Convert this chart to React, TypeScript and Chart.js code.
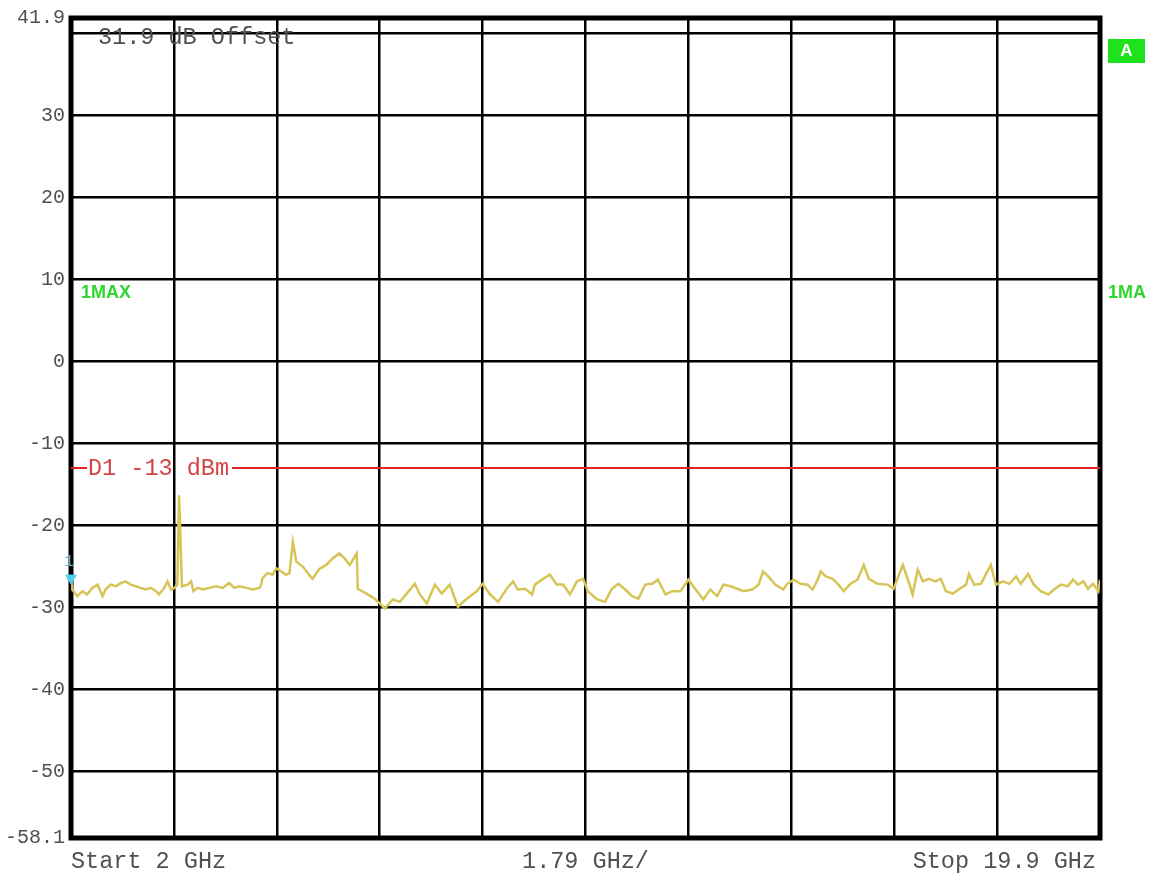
import { useEffect, useRef } from "react";
import { Chart, registerables } from "chart.js";

Chart.register(...registerables);

// Max-hold spurious sweep, 2 GHz .. 19.9 GHz, level in dBm
const FREQ_GHZ = [
  2.0, 2.02, 2.11, 2.2, 2.28, 2.37, 2.46, 2.55, 2.6, 2.69, 2.78, 2.87, 2.95, 3.04, 3.13, 3.21,
  3.3, 3.39, 3.48, 3.53, 3.62, 3.68, 3.74, 3.8, 3.85, 3.88, 3.93, 4.03, 4.09, 4.13, 4.2, 4.29,
  4.41, 4.52, 4.64, 4.75, 4.84, 4.93, 5.05, 5.16, 5.28, 5.31, 5.33, 5.42, 5.51, 5.57, 5.66, 5.74,
  5.8, 5.86, 5.92, 6.03, 6.2, 6.32, 6.44, 6.55, 6.67, 6.76, 6.85, 6.97, 6.99, 7.14, 7.28, 7.46,
  7.6, 7.72, 7.84, 7.98, 8.07, 8.19, 8.33, 8.45, 8.59, 8.73, 8.89, 9.06, 9.16, 9.29, 9.43, 9.58,
  9.69, 9.77, 9.9, 10.02, 10.07, 10.21, 10.33, 10.45, 10.56, 10.68, 10.8, 10.91, 10.99, 11.15,
  11.29, 11.41, 11.52, 11.64, 11.76, 11.87, 11.99, 12.11, 12.21, 12.34, 12.46, 12.6, 12.74, 12.89,
  13.0, 13.12, 13.24, 13.35, 13.47, 13.59, 13.7, 13.85, 13.96, 14.04, 14.13, 14.25, 14.39, 14.46,
  14.57, 14.69, 14.81, 14.9, 14.99, 15.04, 15.13, 15.25, 15.35, 15.44, 15.56, 15.68, 15.79, 15.88,
  16.03, 16.21, 16.31, 16.47, 16.57, 16.64, 16.73, 16.82, 16.92, 17.04, 17.13, 17.22, 17.34, 17.44,
  17.57, 17.62, 17.71, 17.83, 18.0, 18.09, 18.21, 18.32, 18.44, 18.52, 18.65, 18.75, 18.87, 19.0,
  19.1, 19.22, 19.34, 19.43, 19.52, 19.61, 19.69, 19.78, 19.87, 19.9,
];

const LEVEL_DBM = [
  -26.4, -27.8, -28.6, -28.0, -28.4, -27.6, -27.2, -28.6, -27.8, -27.2, -27.4, -27.0, -26.8, -27.2, -27.4, -27.6,
  -27.8, -27.6, -28.0, -28.4, -27.6, -26.8, -27.8, -27.6, -27.2, -16.3, -27.4, -27.2, -26.8, -28.0, -27.6, -27.8,
  -27.6, -27.4, -27.6, -27.0, -27.6, -27.4, -27.6, -27.8, -27.6, -27.2, -26.4, -25.8, -26.0, -25.2, -25.6, -26.0,
  -25.8, -22.0, -24.4, -25.0, -26.5, -25.3, -24.8, -24.0, -23.4, -24.0, -24.8, -23.4, -27.7, -28.3, -28.9, -30.1,
  -29.0, -29.3, -28.3, -27.1, -28.4, -29.5, -27.2, -28.3, -27.2, -29.9, -28.9, -28.0, -27.1, -28.4, -29.3, -27.7,
  -26.8, -27.8, -27.7, -28.4, -27.2, -26.5, -26.0, -27.2, -27.2, -28.4, -26.8, -26.5, -28.0, -29.0,
  -29.3, -27.7, -27.1, -27.8, -28.6, -28.9, -27.2, -27.1, -26.6, -28.4, -28.0, -28.0, -26.6, -28.0,
  -29.0, -27.8, -28.6, -27.2, -27.4, -27.7, -28.0, -27.8, -27.2, -25.6, -26.2, -27.2, -27.8, -27.1,
  -26.6, -27.1, -27.2, -27.8, -26.6, -25.6, -26.2, -26.5, -27.2, -28.0, -27.1, -26.6, -24.8, -26.5,
  -27.1, -27.2, -27.7, -24.8, -26.8, -28.4, -25.4, -26.8, -26.5, -26.8, -26.5, -28.0, -28.3, -27.8,
  -27.2, -25.9, -27.2, -27.1, -24.8, -27.2, -26.8, -27.1, -26.2, -27.1, -25.9, -27.2, -28.0, -28.4,
  -27.8, -27.2, -27.4, -26.6, -27.2, -26.8, -27.7, -27.1, -28.0, -26.6,
];

// Graticule: 10 divisions of 1.79 GHz, reference level 41.9 dBm, 10 dB/div
const X_GRID_GHZ = [2, 3.79, 5.58, 7.37, 9.16, 10.95, 12.74, 14.53, 16.32, 18.11, 19.9];
const Y_GRID_DBM = [-58.1, -50, -40, -30, -20, -10, 0, 10, 20, 30, 40, 41.9];
const Y_TICK_LABELS = ["-58.1", "-50", "-40", "-30", "-20", "-10", "0", "10", "20", "30", "", "41.9"];

const DISPLAY_LINE_DBM = -13;
const DISPLAY_LINE_LABEL = "D1 -13 dBm";
const MARKER_FREQ = [2.0];
const MARKER_LEVEL = [-26.4];

const START_LABEL = "Start 2 GHz";
const SPAN_LABEL = "1.79 GHz/";
const STOP_LABEL = "Stop 19.9 GHz";
const OFFSET_LABEL = "31.9 dB Offset";
const TRACE_LABEL = "1MAX";
const TRACE_LABEL_RIGHT = "1MA";
const SCREEN_LABEL = "A";

const MONO = "'Liberation Mono', 'DejaVu Sans Mono', monospace";
const TEXT_GREY = "#505050";
const TRACE_YELLOW = "#d6c556";
const LABEL_GREEN = "#2ed62e";

const framePlugin = {
  id: "analyzerFrame",
  beforeDatasetsDraw(chart: any) {
    const { ctx, chartArea: a } = chart;
    ctx.save();
    ctx.strokeStyle = "#000";
    ctx.lineWidth = 5;
    ctx.strokeRect(a.left, a.top, a.right - a.left, a.bottom - a.top);
    ctx.restore();
  },
  afterDraw(chart: any) {
    const { ctx, chartArea: a } = chart;
    const yScale = chart.scales.y;
    const xScale = chart.scales.x;
    ctx.save();

    // display line D1
    const yLine = Math.round(yScale.getPixelForValue(DISPLAY_LINE_DBM));
    ctx.font = `23.5px ${MONO}`;
    ctx.textBaseline = "middle";
    const textX = a.left + 17;
    const textW = ctx.measureText(DISPLAY_LINE_LABEL).width;
    ctx.strokeStyle = "#e52222";
    ctx.lineWidth = 2;
    ctx.beginPath();
    ctx.moveTo(a.left, yLine);
    ctx.lineTo(textX - 1, yLine);
    ctx.moveTo(textX + textW + 3, yLine);
    ctx.lineTo(a.right, yLine);
    ctx.stroke();
    ctx.fillStyle = "#d44444";
    ctx.textAlign = "left";
    ctx.fillText(DISPLAY_LINE_LABEL, textX, yLine + 1);

    // offset annotation
    ctx.fillStyle = TEXT_GREY;
    ctx.fillText(OFFSET_LABEL, a.left + 27, a.top + 20);

    // frequency axis annotation
    const yBottom = a.bottom + 24;
    ctx.textAlign = "left";
    ctx.fillText(START_LABEL, xScale.getPixelForValue(2), yBottom);
    ctx.textAlign = "center";
    ctx.fillText(SPAN_LABEL, (a.left + a.right) / 2, yBottom);
    ctx.textAlign = "right";
    ctx.fillText(STOP_LABEL, a.right - 4, yBottom);

    // trace labels
    ctx.font = `bold 18px 'Liberation Sans', Arial, sans-serif`;
    ctx.fillStyle = LABEL_GREEN;
    ctx.textAlign = "left";
    ctx.fillText(TRACE_LABEL, a.left + 10, 293);
    ctx.fillText(TRACE_LABEL_RIGHT, a.right + 8, 293);

    // screen A badge
    ctx.fillStyle = "#1ee21e";
    ctx.fillRect(a.right + 8, 39, 37, 24);
    ctx.fillStyle = "#fff";
    ctx.font = `bold 17px 'Liberation Sans', Arial, sans-serif`;
    ctx.textAlign = "center";
    ctx.fillText(SCREEN_LABEL, a.right + 26.5, 51);

    // marker number
    const mx = xScale.getPixelForValue(MARKER_FREQ[0]);
    const my = yScale.getPixelForValue(MARKER_LEVEL[0]);
    ctx.font = `16px ${MONO}`;
    ctx.fillStyle = "#6fa9bb";
    ctx.fillText("1", mx - 2, my - 16);
    ctx.restore();
  },
};

export default function App() {
  const canvasRef = useRef<HTMLCanvasElement | null>(null);

  useEffect(() => {
    const canvas = canvasRef.current;
    if (!canvas) return;

    const gridColor = "#000";
    const chart = new Chart(canvas, {
      type: "line",
      data: {
        datasets: [
          {
            label: "Marker 1",
            data: MARKER_FREQ.map((f, i) => ({ x: f, y: MARKER_LEVEL[i] })),
            showLine: false,
            pointStyle: "triangle",
            rotation: 180,
            pointRadius: 6,
            pointBackgroundColor: "#4fd0ee",
            pointBorderColor: "#4fd0ee",
            clip: false,
          } as any,
          {
            label: "1MAX",
            data: FREQ_GHZ.map((f, i) => ({ x: f, y: LEVEL_DBM[i] })),
            borderColor: TRACE_YELLOW,
            borderWidth: 2.5,
            pointRadius: 0,
            tension: 0,
            fill: false,
          },
        ],
      },
      options: {
        responsive: false,
        animation: false,
        layout: { padding: { left: 0, top: 15, right: 54, bottom: 0 } },
        plugins: {
          legend: { display: false },
          tooltip: { enabled: false },
        },
        scales: {
          x: {
            type: "linear",
            min: 2,
            max: 19.9,
            afterBuildTicks: (s: any) => {
              s.ticks = X_GRID_GHZ.map((v) => ({ value: v }));
            },
            afterFit: (s: any) => {
              s.height = 42;
            },
            ticks: { display: false },
            grid: { color: gridColor, lineWidth: 2.5, drawTicks: false },
            border: { display: false },
          },
          y: {
            type: "linear",
            min: -58.1,
            max: 41.9,
            afterBuildTicks: (s: any) => {
              s.ticks = Y_GRID_DBM.map((v) => ({ value: v }));
            },
            afterFit: (s: any) => {
              s.width = 71;
            },
            ticks: {
              autoSkip: false,
              padding: 6,
              color: TEXT_GREY,
              font: { family: MONO, size: 20 },
              callback: (_v: any, i: number) => Y_TICK_LABELS[i],
            },
            grid: { color: gridColor, lineWidth: 2.5, drawTicks: false },
            border: { display: false },
          },
        },
      } as any,
      plugins: [framePlugin],
    });

    return () => chart.destroy();
  }, []);

  return (
    <div style={{ position: "absolute", left: 0, top: 0, width: 1154, height: 880, background: "#fff" }}>
      <canvas ref={canvasRef} width={1154} height={880} style={{ display: "block" }} />
    </div>
  );
}
